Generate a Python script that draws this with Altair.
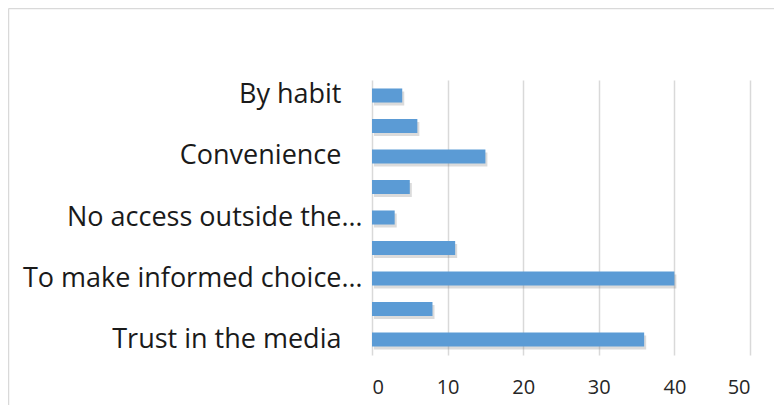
import json
import altair as alt
import pandas as pd

labels = ["By habit", "", "Convenience", "", "No access outside the…", "",
          "To make informed choice…", "", "Trust in the media"]
values = [4, 6, 15, 5, 3, 11, 40, 8, 36]
x_ticks = [0, 10, 20, 30, 40, 50]

df = pd.DataFrame({"idx": list(range(len(labels))), "label": labels, "value": values})

shown = [l if (l == "" or l.endswith("…")) else l + "\u00a0\u00a0\u00a0\u200b" for l in labels]
label_expr = json.dumps(shown, ensure_ascii=False) + "[datum.value]"

W, H = 378, 275
PAD_L, PAD_T = 364, 72

y_enc = alt.Y(
    "idx:O",
    sort="ascending",
    scale=alt.Scale(paddingInner=0.54, paddingOuter=0.278),
    axis=alt.Axis(
        title=None, labelExpr=label_expr, ticks=False, domain=False,
        labelFont="Open Sans", labelFontSize=27, labelColor="#1a1a1a",
        labelPadding=10, labelOverlap=False, labelLimit=400,
    ),
)
x_enc = alt.X(
    "value:Q",
    scale=alt.Scale(domain=[0, 50], nice=False),
    axis=alt.Axis(
        title=None, values=x_ticks, ticks=False, domain=False,
        gridColor="#d9d9d9", gridWidth=1.5,
        labelFont="Open Sans", labelFontSize=20, labelColor="#262626",
        labelPadding=22,
    ),
)

base = alt.Chart(df)
shadow = base.mark_bar(color="#7f7f7f", opacity=0.28, xOffset=2, yOffset=3).encode(
    x=alt.X("value:Q", scale=alt.Scale(domain=[0, 50], nice=False)),
    y=alt.Y("idx:O", sort="ascending", scale=alt.Scale(paddingInner=0.54, paddingOuter=0.278)),
)
bars = base.mark_bar(color="#5b9bd5").encode(x=x_enc, y=y_enc)

one = alt.Chart(pd.DataFrame({"a": [0]}))
top_line = one.mark_rule(color="#d9d9d9", strokeWidth=1.5).encode(
    x=alt.value(-PAD_L + 0.5), x2=alt.value(W + 30), y=alt.value(-PAD_T + 0.5)
)
left_line = one.mark_rule(color="#d9d9d9", strokeWidth=1.5).encode(
    x=alt.value(-PAD_L + 0.5), y=alt.value(-PAD_T + 0.5), y2=alt.value(H + 60)
)

chart = alt.layer(shadow, bars, top_line, left_line).properties(
    width=W, height=H,
    autosize=alt.AutoSizeParams(type="none"),
    padding={"left": PAD_L, "top": PAD_T, "right": 24, "bottom": 50},
    background="white",
).configure_view(stroke=None)

chart.save("out.html", embed_options={"renderer": "svg", "actions": False})
